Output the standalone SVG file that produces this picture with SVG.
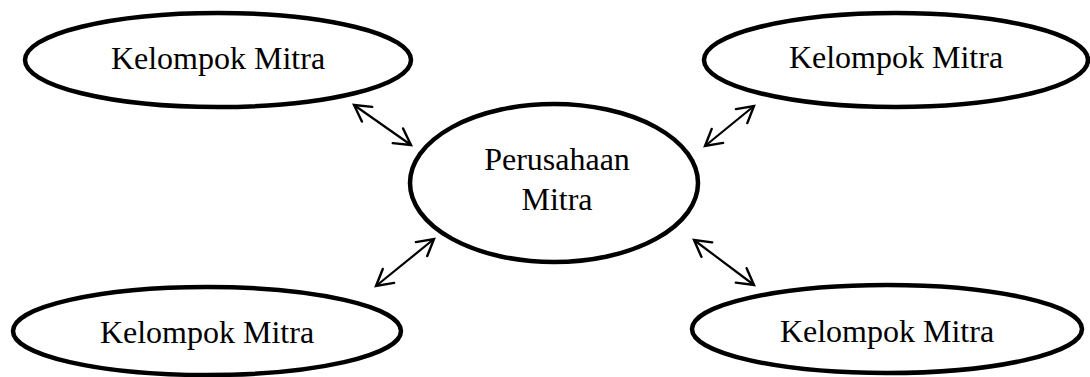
<svg xmlns="http://www.w3.org/2000/svg" width="1090" height="377" viewBox="0 0 1090 377">
  <style>
    .node { fill: #ffffff; stroke: #000000; stroke-width: 4.5; }
    .label { font-family: "Liberation Serif", "Times New Roman", serif; font-size: 32px; fill: #000000; text-anchor: middle; }
    .link { fill: none; stroke: #000000; stroke-width: 2.2; marker-start: url(#head); marker-end: url(#head); }
  </style>
  <defs>
    <!-- open chevron arrowhead used at both ends of each link -->
    <marker id="head" markerUnits="userSpaceOnUse" markerWidth="30" markerHeight="30" refX="0" refY="0" viewBox="-20 -15 30 30" orient="auto-start-reverse" overflow="visible">
      <path d="M-16,-9 L0,0 L-16,9" fill="none" stroke="#000000" stroke-width="2.4" stroke-linejoin="miter" stroke-linecap="round"/>
    </marker>
  </defs>

  <rect width="1090" height="377" fill="#ffffff"/>

  <g id="connectors">
    <line class="link" x1="354" y1="105" x2="411" y2="145"/>
    <line class="link" x1="754" y1="106" x2="705" y2="146"/>
    <line class="link" x1="434" y1="239" x2="376" y2="286"/>
    <line class="link" x1="694" y1="240" x2="754" y2="285"/>
  </g>

  <g id="kelompok-mitra-top-left">
    <ellipse class="node" cx="218" cy="60" rx="193" ry="47"/>
    <text class="label" x="218" y="69">Kelompok Mitra</text>
  </g>

  <g id="kelompok-mitra-top-right">
    <ellipse class="node" cx="896" cy="60" rx="192" ry="47"/>
    <text class="label" x="896" y="68">Kelompok Mitra</text>
  </g>

  <g id="perusahaan-mitra">
    <ellipse class="node" cx="554" cy="183" rx="144" ry="79"/>
    <text class="label" x="557" y="170">Perusahaan</text>
    <text class="label" x="557" y="210">Mitra</text>
  </g>

  <g id="kelompok-mitra-bottom-left">
    <ellipse class="node" cx="207" cy="331" rx="194" ry="44"/>
    <text class="label" x="207" y="343">Kelompok Mitra</text>
  </g>

  <g id="kelompok-mitra-bottom-right">
    <ellipse class="node" cx="887" cy="329" rx="195" ry="44"/>
    <text class="label" x="887" y="342">Kelompok Mitra</text>
  </g>
</svg>
